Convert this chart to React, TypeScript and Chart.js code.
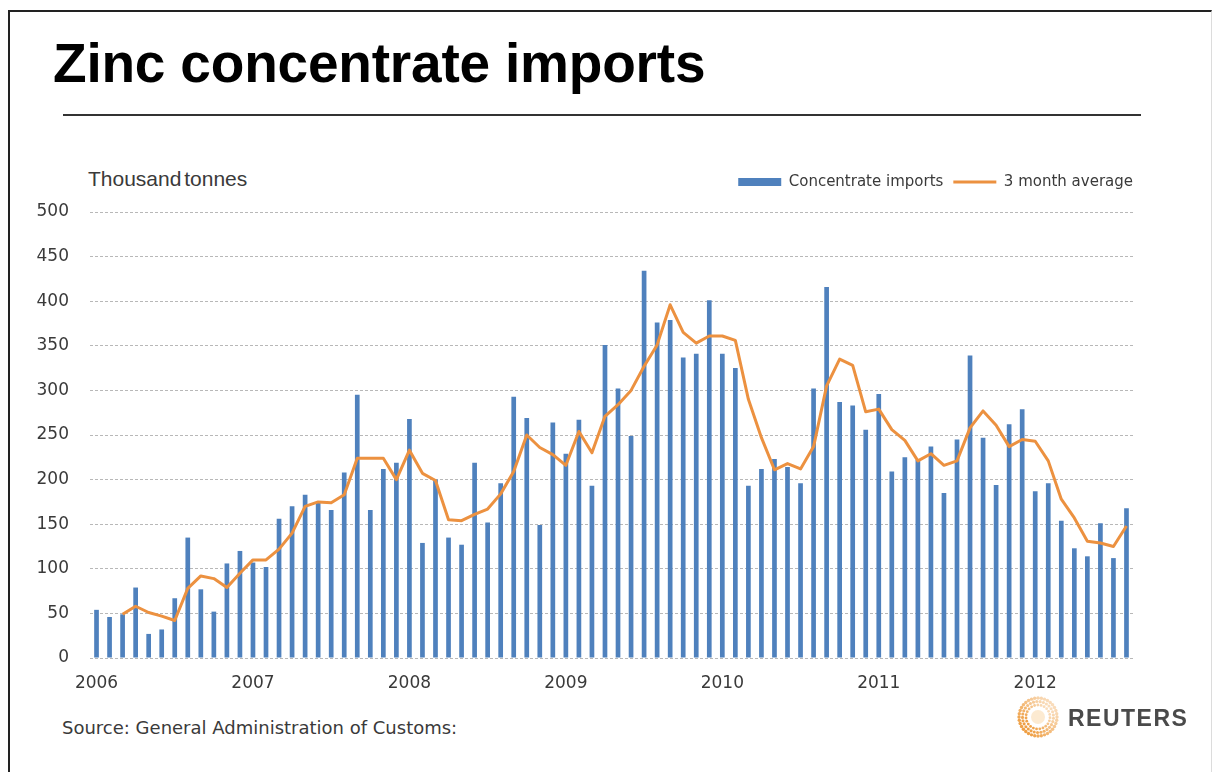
import React, { useEffect, useRef } from 'react';
import { Chart, registerables } from 'chart.js';

Chart.register(...registerables);

// ---- data ----
const years = ['2006', '2007', '2008', '2009', '2010', '2011', '2012'];
const months = ['Jan', 'Feb', 'Mar', 'Apr', 'May', 'Jun', 'Jul', 'Aug', 'Sep', 'Oct', 'Nov', 'Dec'];
const categories: string[] = years
  .flatMap((y) => months.map((m) => `${m} ${y}`))
  .slice(0, 80); // Jan 2006 – Aug 2012

const concentrateImports = [
  54, 46, 49, 79, 27, 32, 67, 135, 77, 52, 106, 120,
  107, 102, 156, 170, 183, 174, 166, 208, 295, 166, 212, 219,
  268, 129, 200, 135, 127, 219, 152, 196, 293, 269, 149, 264,
  229, 267, 193, 351, 302, 249, 434, 376, 379, 337, 341, 401,
  341, 325, 193, 212, 223, 214, 196, 302, 416, 287, 283, 256,
  296, 209, 225, 222, 237, 185, 245, 339, 247, 194, 262, 279,
  187, 196, 154, 123, 114, 151, 112, 168,
];

const threeMonthAverage: (number | null)[] = [
  null, null, 49, 58, 51, 47, 42, 78, 92, 89, 79, 95,
  110, 110, 122, 140, 170, 175, 174, 183, 224, 224, 224, 200,
  233, 207, 199, 155, 154, 161, 167, 184, 209, 250, 236, 228,
  216, 254, 230, 271, 284, 300, 327, 351, 396, 365, 353, 361,
  361, 356, 290, 247, 211, 218, 212, 237, 305, 335, 328, 276,
  279, 256, 244, 221, 229, 216, 221, 258, 277, 261, 237, 245,
  243, 221, 178, 157, 131, 129, 125, 148,
];

const yTickMin = 0;
const yTickMax = 500;
const yTickStep = 50;

const seriesNames = ['Concentrate imports', '3 month average'];

const BAR_COLOR = '#4F81BD';
const LINE_COLOR = '#EC9140';
const TEXT_COLOR = '#3a3a3a';

// legend spacing plugin: extra gap below the legend and flush right alignment
const legendSpacing = {
  id: 'legendSpacing',
  beforeLayout(chart: any) {
    const legend = chart.legend;
    if (!legend || legend.__patched) return;
    const orig = legend.fit.bind(legend);
    legend.fit = function () {
      orig();
      this.height += 12.5;
    };
    legend.__patched = true;
  },
  afterLayout(chart: any) {
    const legend = chart.legend;
    if (!legend) return;
    const pad = legend.options.labels.padding;
    legend.left += pad;
    legend.right += pad;
  },
};

function ReutersLogo() {
  const dots: React.ReactNode[] = [];
  const rings = [19, 15.5, 12];
  rings.forEach((r, ri) => {
    const n = Math.round(r * 1.9);
    for (let k = 0; k < n; k++) {
      const a = (k / n) * Math.PI * 2 + ri * 0.3;
      const op = 0.35 + 0.6 * (0.5 + 0.5 * Math.cos(a - 2.4));
      dots.push(
        <circle
          key={`${ri}-${k}`}
          cx={22 + r * Math.cos(a)}
          cy={22 + r * Math.sin(a)}
          r={1.7 - ri * 0.15}
          fill="#EE9A3A"
          opacity={op}
        />
      );
    }
  });
  return (
    <svg width={44} height={44} style={{ position: 'absolute', left: 1016, top: 695 }}>
      {dots}
      <circle cx={22} cy={22} r={7} fill="#F6C27A" opacity={0.35} />
    </svg>
  );
}

export default function App() {
  const canvasRef = useRef<HTMLCanvasElement | null>(null);

  useEffect(() => {
    if (!canvasRef.current) return;
    Chart.defaults.font.family = '"DejaVu Sans", Verdana, sans-serif';
    Chart.defaults.color = TEXT_COLOR;
    const chart = new Chart(canvasRef.current, {
      type: 'bar',
      data: {
        labels: categories,
        datasets: [
          {
            type: 'bar',
            label: seriesNames[0],
            data: concentrateImports,
            backgroundColor: BAR_COLOR,
            borderWidth: 0,
            barPercentage: 0.36,
            categoryPercentage: 1.0,
            pointStyle: 'rect',
            order: 1,
          } as any,
          {
            type: 'line',
            label: seriesNames[1],
            data: threeMonthAverage,
            borderColor: LINE_COLOR,
            backgroundColor: LINE_COLOR,
            borderWidth: 3,
            pointRadius: 0,
            pointHoverRadius: 0,
            pointStyle: 'line',
            tension: 0,
            fill: false,
            borderJoinStyle: 'round',
            order: 0,
          } as any,
        ],
      },
      options: {
        responsive: false,
        animation: false,
        devicePixelRatio: 1,
        layout: { padding: { left: 0, right: 80, top: 14.5, bottom: 0 } },
        plugins: {
          tooltip: { enabled: false },
          title: { display: false },
          legend: {
            display: true,
            position: 'top',
            align: 'end',
            labels: {
              usePointStyle: true,
              pointStyleWidth: 43,
              boxHeight: 8,
              padding: 10,
              color: TEXT_COLOR,
              font: { size: 15, family: '"DejaVu Sans", sans-serif' },
              sort: (a: any, b: any) => a.datasetIndex - b.datasetIndex,
            },
          },
        },
        scales: {
          x: {
            type: 'category',
            offset: true,
            grid: { display: false, drawTicks: false },
            border: { display: false },
            ticks: {
              autoSkip: false,
              maxRotation: 0,
              minRotation: 0,
              padding: 15,
              color: TEXT_COLOR,
              font: { size: 17 },
              callback: (_v: any, index: number) =>
                index % 12 === 0 ? years[index / 12] : '',
            },
            afterFit: (scale: any) => {
              scale.height = 52;
            },
          },
          y: {
            min: yTickMin,
            max: yTickMax,
            grid: {
              color: '#b8b8b8',
              lineWidth: 1,
              drawTicks: false,
            },
            border: { display: false, dash: [3, 2] },
            ticks: {
              stepSize: yTickStep,
              padding: 21,
              color: TEXT_COLOR,
              font: { size: 17 },
            },
            afterFit: (scale: any) => {
              scale.width = 90;
            },
          },
        },
      },
      plugins: [legendSpacing],
    } as any);
    return () => chart.destroy();
  }, []);

  return (
    <div
      style={{
        position: 'absolute',
        left: 0,
        top: 0,
        width: 1213,
        height: 772,
        background: '#ffffff',
        overflow: 'hidden',
      }}
    >
      <div
        style={{
          position: 'absolute',
          left: 8,
          top: 10,
          width: 1201,
          height: 800,
          borderLeft: '2px solid #222',
          borderTop: '2px solid #222',
          borderRight: '1px solid #dcdcdc',
        }}
      />
      <div
        style={{
          position: 'absolute',
          left: 53,
          top: 36.4,
          font: 'bold 55px "Liberation Sans", Arial, sans-serif',
          lineHeight: '55px',
          letterSpacing: '-0.2px',
          color: '#000',
          whiteSpace: 'nowrap',
        }}
      >
        Zinc concentrate imports
      </div>
      <div
        style={{
          position: 'absolute',
          left: 63,
          top: 114,
          width: 1078,
          height: 2,
          background: '#333',
        }}
      />
      <div
        style={{
          position: 'absolute',
          left: 88,
          top: 168.2,
          font: '21px "Liberation Sans", Arial, sans-serif',
          lineHeight: '21px',
          color: TEXT_COLOR,
          whiteSpace: 'nowrap',
          wordSpacing: '-3px',
        }}
      >
        Thousand tonnes
      </div>
      <canvas
        ref={canvasRef}
        width={1213}
        height={560}
        style={{ position: 'absolute', left: 0, top: 150, width: 1213, height: 560 }}
      />
      <div
        style={{
          position: 'absolute',
          left: 62,
          top: 718.8,
          font: '18px "DejaVu Sans", Verdana, sans-serif',
          lineHeight: '18px',
          color: TEXT_COLOR,
          whiteSpace: 'nowrap',
        }}
      >
        Source: General Administration of Customs:
      </div>
      <ReutersLogo />
      <div
        style={{
          position: 'absolute',
          left: 1068,
          top: 706.5,
          font: 'bold 23px "Liberation Sans", Arial, sans-serif',
          lineHeight: '23px',
          letterSpacing: '1.5px',
          color: '#4a4a4a',
          whiteSpace: 'nowrap',
        }}
      >
        REUTERS
      </div>
    </div>
  );
}
